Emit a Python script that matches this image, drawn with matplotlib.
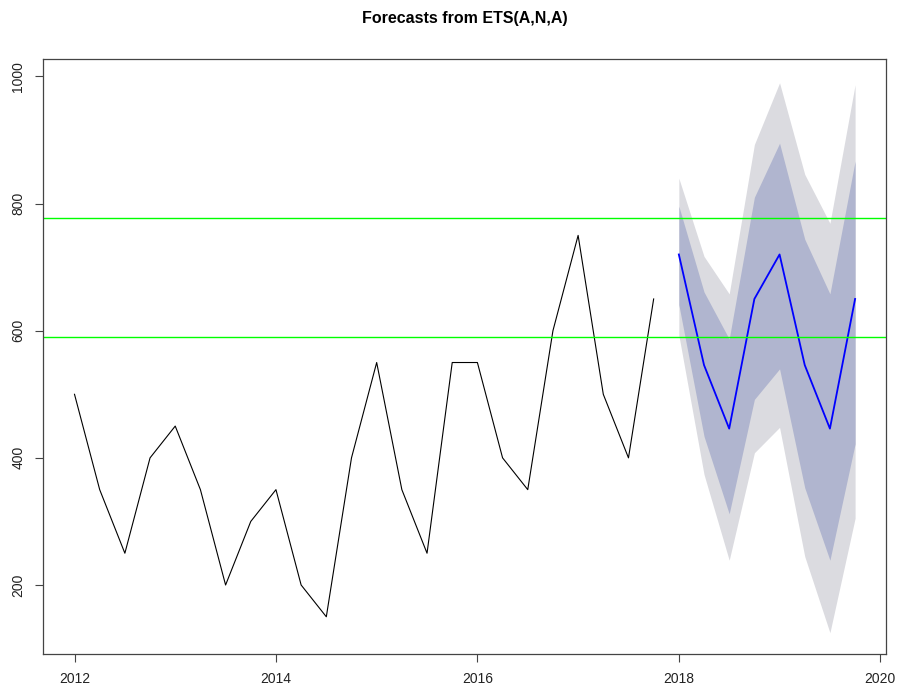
import matplotlib
matplotlib.use("Agg")
from matplotlib import pyplot as plt

plt.rcParams['font.family'] = ['Liberation Sans', 'DejaVu Sans']

# observed quarterly series 2012 Q1 .. 2017 Q4
obs_start = 2012.0
observed = [500, 350, 250, 400, 450, 350, 200, 300,
            350, 200, 150, 400, 550, 350, 250, 550,
            550, 400, 350, 600, 750, 500, 400, 650]

# forecast 2018 Q1 .. 2019 Q4
fc_start = 2018.0
fc_mean = [720, 546, 446, 650, 720, 546, 446, 650]
lo80 = [641, 434, 312, 492, 540, 353, 239, 422]
hi80 = [796, 661, 587, 810, 895, 744, 658, 867]
lo95 = [593, 374, 239, 408, 448, 245, 125, 305]
hi95 = [840, 717, 658, 893, 990, 846, 769, 987]

# horizontal reference lines
hlines = [777, 590]

t_obs = [obs_start + i / 4 for i in range(len(observed))]
t_fc = [fc_start + i / 4 for i in range(len(fc_mean))]

fig = plt.figure(figsize=(8.98, 6.92), dpi=100)
ax = fig.add_axes([0.0482, 0.0545, 0.9388, 0.8598])

ax.fill_between(t_fc, lo95, hi95, color="#dbdbe0", linewidth=0)
ax.fill_between(t_fc, lo80, hi80, color="#b0b5cf", linewidth=0)
ax.plot(t_obs, observed, color="black", lw=0.8)
ax.plot(t_fc, fc_mean, color="blue", lw=1.3)
for h in hlines:
    ax.axhline(h, color="#00ff00", lw=1.0)

ax.set_xlim(2011.69, 2020.06)
ax.set_ylim(91, 1027)
ax.set_xticks([2012, 2014, 2016, 2018, 2020])
ax.set_yticks([200, 400, 600, 800, 1000])
ax.tick_params(direction="out", length=6, width=0.8, color="#444444",
               labelsize=10, pad=7, labelcolor="#222222")
for lab in ax.get_yticklabels():
    lab.set_rotation(90)
    lab.set_va("center")
for s in ax.spines.values():
    s.set_color("#444444")
    s.set_linewidth(0.9)

# title centred over the plot region, like base R
fig.text(0.5176, 0.973, "Forecasts from ETS(A,N,A)", ha="center", va="center",
         fontsize=11.5, fontweight="bold")

fig.savefig("out.png", dpi=100)
